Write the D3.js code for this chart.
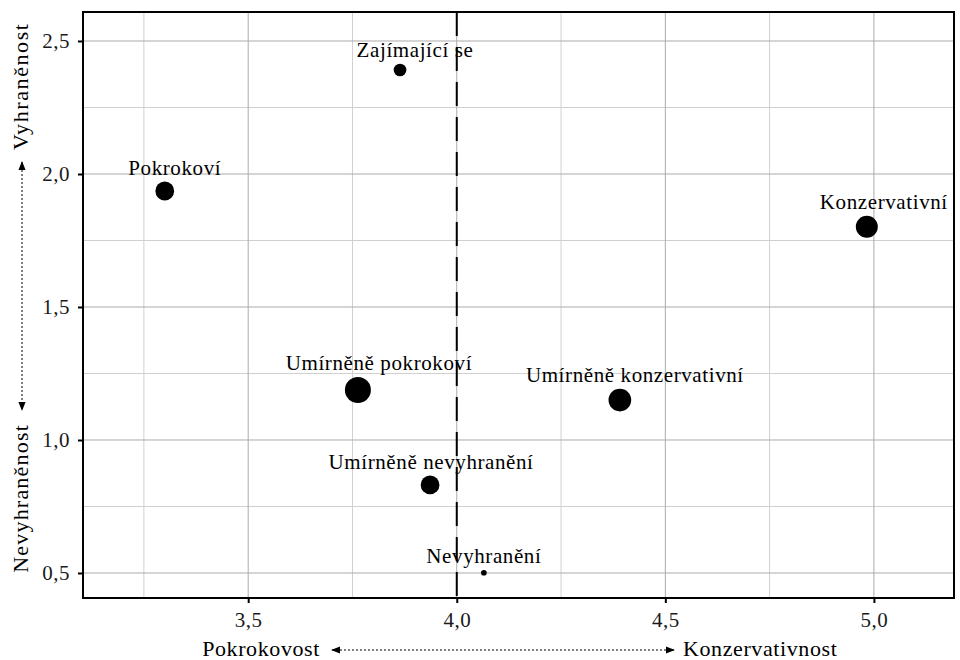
<!DOCTYPE html>
<html>
<head>
<meta charset="utf-8">
<script src="https://cdn.jsdelivr.net/npm/d3@7"></script>
<style>
  body { margin: 0; background: #fff; }
  svg { display: block; }
  text { font-family: "Liberation Serif", "Times New Roman", serif; }
</style>
</head>
<body>
<svg id="chart" width="960" height="660"></svg>
<script>
// ---- data ----
const groups = ["Zajímající se", "Pokrokoví", "Konzervativní", "Umírněně pokrokoví",
                "Umírněně konzervativní", "Umírněně nevyhranění", "Nevyhranění"];
const conservatism = [3.864, 3.300, 4.983, 3.763, 4.391, 3.936, 4.065];
const extremity   = [2.391, 1.936, 1.802, 1.188, 1.150, 0.831, 0.501];
const groupSize   = [5, 11, 15, 21, 16, 11, 1];
const xTicks = [3.5, 4.0, 4.5, 5.0];
const xMinor = [3.25, 3.75, 4.25, 4.75];
const yTicks = [0.5, 1.0, 1.5, 2.0, 2.5];
const yMinor = [0.75, 1.25, 1.75, 2.25];
const midpoint = 4.0;

// label nudges (layout, in px), as produced by label placement
const labelDx = [15, 10, 17, 21, 15, 1, 0];

(function () {
const svg = d3.select("#chart");
const pL = 83, pR = 954, pT = 12, pB = 598;
const x = d3.scaleLinear().domain([3.104, 5.192]).range([pL, pR]);
const y = d3.scaleLinear().domain([0.406, 2.609]).range([pB, pT]);
const r = d3.scaleSqrt().domain([0, 21]).range([0, 13]);
const locale = d3.formatLocale({decimal: ",", thousands: " ", grouping: [3], currency: ["", " Kč"]});
const fmt = locale.format(".1f");
const FS = 21, FT = 22;

// grid
const grid = svg.append("g");
grid.selectAll(".xmin").data(xMinor).join("line")
  .attr("x1", d => x(d)).attr("x2", d => x(d)).attr("y1", pT).attr("y2", pB)
  .attr("stroke", "#d0d0d0").attr("stroke-width", 1);
grid.selectAll(".ymin").data(yMinor).join("line")
  .attr("y1", d => y(d)).attr("y2", d => y(d)).attr("x1", pL).attr("x2", pR)
  .attr("stroke", "#d0d0d0").attr("stroke-width", 1);
grid.selectAll(".xmaj").data(xTicks).join("line")
  .attr("x1", d => x(d)).attr("x2", d => x(d)).attr("y1", pT).attr("y2", pB)
  .attr("stroke", "#ababab").attr("stroke-width", 1);
grid.selectAll(".ymaj").data(yTicks).join("line")
  .attr("y1", d => y(d)).attr("y2", d => y(d)).attr("x1", pL).attr("x2", pR)
  .attr("stroke", "#ababab").attr("stroke-width", 1);

// midpoint dashed line
svg.append("line")
  .attr("x1", x(midpoint)).attr("x2", x(midpoint)).attr("y1", pT).attr("y2", pB)
  .attr("stroke", "#000").attr("stroke-width", 2).attr("stroke-dasharray", "24,11");

// axes
const xAxis = svg.append("g").attr("transform", `translate(0,${pB})`)
  .call(d3.axisBottom(x).tickValues(xTicks).tickFormat(fmt).tickSize(5).tickPadding(9));
const yAxis = svg.append("g").attr("transform", `translate(${pL},0)`)
  .call(d3.axisLeft(y).tickValues(yTicks).tickFormat(fmt).tickSize(5).tickPadding(8));
[xAxis, yAxis].forEach(a => {
  a.select(".domain").remove();
  a.selectAll(".tick line").attr("stroke", "#000").attr("stroke-width", 2);
  a.selectAll(".tick text").attr("fill", "#1a1a1a")
    .style("font-family", '"Liberation Serif", serif').style("font-size", FS + "px")
    .style("letter-spacing", "0.5px");
});

// border
svg.append("rect").attr("x", pL).attr("y", pT)
  .attr("width", pR - pL).attr("height", pB - pT)
  .attr("fill", "none").attr("stroke", "#000").attr("stroke-width", 2);

// points
const idx = d3.range(groups.length);
svg.append("g").selectAll("circle").data(idx).join("circle")
  .attr("cx", i => x(conservatism[i])).attr("cy", i => y(extremity[i]))
  .attr("r", i => r(groupSize[i])).attr("fill", "#000");

// point labels
svg.append("g").selectAll("text").data(idx).join("text")
  .attr("x", i => x(conservatism[i]) + labelDx[i])
  .attr("y", i => y(extremity[i]) - r(groupSize[i]) - 7)
  .attr("text-anchor", "middle")
  .style("font-size", FS + "px").style("letter-spacing", "0.6px")
  .attr("fill", "#000")
  .text(i => groups[i]);

// arrow markers
const defs = svg.append("defs");
defs.append("marker").attr("id", "ah").attr("viewBox", "0 0 10 10")
  .attr("refX", 9).attr("refY", 5).attr("markerWidth", 9).attr("markerHeight", 9)
  .attr("markerUnits", "userSpaceOnUse").attr("orient", "auto-start-reverse")
  .append("path").attr("d", "M0,1 L10,5 L0,9 Z").attr("fill", "#000");

// bottom axis title
svg.append("text").attr("x", 320).attr("y", 656).attr("text-anchor", "end")
  .style("font-size", FT + "px").style("letter-spacing", "0.6px").text("Pokrokovost");
svg.append("line").attr("x1", 332).attr("x2", 674).attr("y1", 650).attr("y2", 650)
  .attr("stroke", "#000").attr("stroke-width", 1).attr("stroke-dasharray", "2,2")
  .attr("marker-start", "url(#ah)").attr("marker-end", "url(#ah)");
svg.append("text").attr("x", 683).attr("y", 656).attr("text-anchor", "start")
  .style("font-size", FT + "px").style("letter-spacing", "0.6px").text("Konzervativnost");

// left axis title
svg.append("text").attr("transform", "translate(28,150) rotate(-90)")
  .attr("text-anchor", "start").style("font-size", FT + "px").style("letter-spacing", "1.6px")
  .text("Vyhraněnost");
svg.append("line").attr("x1", 22).attr("x2", 22).attr("y1", 162).attr("y2", 410)
  .attr("stroke", "#000").attr("stroke-width", 1).attr("stroke-dasharray", "2,2")
  .attr("marker-start", "url(#ah)").attr("marker-end", "url(#ah)");
svg.append("text").attr("transform", "translate(28,424) rotate(-90)")
  .attr("text-anchor", "end").style("font-size", FT + "px").style("letter-spacing", "1.2px")
  .text("Nevyhraněnost");
})();
</script>
</body>
</html>
